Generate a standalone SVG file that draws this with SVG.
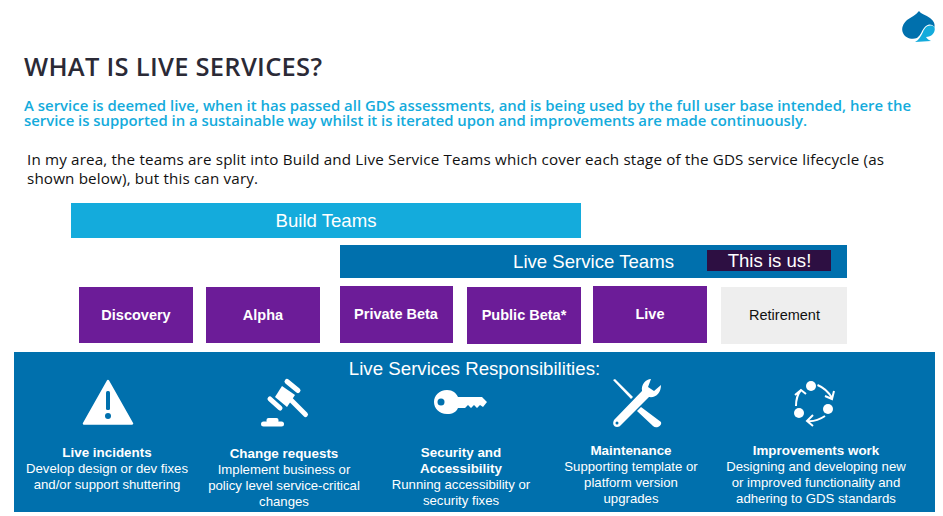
<svg xmlns="http://www.w3.org/2000/svg" width="943" height="516" viewBox="0 0 943 516">
<style>
text{font-family:"Liberation Sans",Arial,sans-serif;text-anchor:middle;fill:#fff}
.h{font-family:"Open Sans","Noto Sans",sans-serif;text-anchor:start}
.b{font-size:14.5px;font-weight:700}
.r{font-size:13.2px}
.rb{font-size:13.4px;font-weight:700}
.t{font-size:18.6px}
.p{fill:#6c1c98}
.w{fill:#fff}
</style>
<rect width="943" height="516" fill="#fff"/>
<g id="logo">
<path d="M919 11C921 14 926 15 930 18C934 21 935 24 934.500 27C931 23 927 24 924 28C921 32 921 35 917 38C912 40 905 38 903 33C901 28 903 24 907 20C911 17 916 15 919 11Z" fill="#0070ad"/>
<path d="M934.500 27C936 33 931 37 926 37C927 39 929 40 931 41L915 42C919 40 921 36 923 32C925 27 929 23.500 934.500 27Z" fill="#14abdc"/>
</g>
<g id="heading">
<text class="h" x="24" y="76" font-size="25.500" font-weight="600" textLength="298" style="fill:#2b2a36">WHAT IS LIVE SERVICES?</text>
<text class="h" x="24" y="111" font-size="14.900" font-weight="600" textLength="887" style="fill:#14abdc">A service is deemed live, when it has passed all GDS assessments, and is being used by the full user base intended, here the</text>
<text class="h" x="24" y="126" font-size="14.900" font-weight="600" textLength="783" style="fill:#14abdc">service is supported in a sustainable way whilst it is iterated upon and improvements are made continuously.</text>
<text class="h" x="27" y="165" font-size="15.200" textLength="857" style="fill:#111">In my area, the teams are split into Build and Live Service Teams which cover each stage of the GDS service lifecycle (as</text>
<text class="h" x="27" y="184" font-size="15.200" textLength="231" style="fill:#111">shown below), but this can vary.</text>
</g>
<g id="build-teams"><rect x="71" y="203" width="510" height="35" fill="#14abdc"/><text class="t" x="326" y="227">Build Teams</text></g>
<g id="live-service-teams"><rect x="340" y="245" width="507" height="33" fill="#0070ad"/><text class="t" x="593.500" y="268">Live Service Teams</text></g>
<g id="this-is-us"><rect x="707" y="250" width="124" height="21" fill="#2d0f42"/><text class="t" x="769.500" y="267">This is us!</text></g>
<g id="discovery"><rect class="p" x="79" y="287" width="114" height="56"/><text class="b" x="136" y="320">Discovery</text></g>
<g id="alpha"><rect class="p" x="206" y="287" width="114" height="56"/><text class="b" x="263" y="320">Alpha</text></g>
<g id="private-beta"><rect class="p" x="340" y="286" width="113" height="57"/><text class="b" x="396" y="319">Private Beta</text></g>
<g id="public-beta"><rect class="p" x="467" y="287" width="114" height="57"/><text class="b" x="524" y="320">Public Beta*</text></g>
<g id="live"><rect class="p" x="593" y="286" width="114" height="57"/><text class="b" x="650" y="319">Live</text></g>
<g id="retirement"><rect x="721" y="287" width="126" height="57" fill="#eee"/><text x="784.500" y="320" font-size="14.500" style="fill:#111">Retirement</text></g>
<g id="responsibilities">
<rect x="14" y="352" width="921" height="160" fill="#0070ad"/>
<text x="474.500" y="375" font-size="18.700">Live Services Responsibilities:</text>
</g>
<g id="live-incidents">
<path d="M108 381L132 423.500H84Z" class="w" stroke="#fff" stroke-width="2.500" stroke-linejoin="round"/>
<rect x="106" y="391" width="4" height="19" rx="1.500" fill="#0070ad"/><circle cx="108" cy="416" r="3" fill="#0070ad"/>
<text class="rb" x="107" y="457">Live incidents</text>
<text class="r" x="107" y="473">Develop design or dev fixes</text>
<text class="r" x="107" y="489">and/or support shuttering</text>
</g>
<g id="change-requests">
<path d="M282 386L295 395L287 407L275 397Z" class="w"/>
<g stroke="#fff" stroke-linecap="round" fill="none">
<path d="M287 381.500L298 390.500" stroke-width="5"/>
<path d="M270 399L280 408" stroke-width="5"/>
<path d="M290 399L305.500 414.500" stroke-width="5"/>
</g>
<rect x="261" y="421.500" width="23" height="5" rx="2.500" class="w"/><rect x="266.500" y="418" width="12" height="5" rx="2" class="w"/>
<text class="rb" x="284" y="458">Change requests</text>
<text class="r" x="284" y="474">Implement business or</text>
<text class="r" x="284" y="490">policy level service-critical</text>
<text class="r" x="284" y="506">changes</text>
</g>
<g id="security-accessibility">
<path d="M447 390C453 390 456 393 458 397H482L487 402L483 407L480 405L477 408L474 405L471 408L468 405L465 408L458 408C456 412 453 414 447 414C439 414 434 408 434 402C434 396 439 390 447 390Z" class="w"/>
<circle cx="441" cy="402" r="3.500" fill="#0070ad"/>
<text class="rb" x="461" y="457">Security and</text>
<text class="rb" x="461" y="473">Accessibility</text>
<text class="r" x="461" y="489">Running accessibility or</text>
<text class="r" x="461" y="505">security fixes</text>
</g>
<g id="maintenance">
<path d="M613 380L615 379L633 397L631 399Z" class="w"/>
<path d="M641 407L661 422Q662 425 658 427Q655 428 653 426L637 411Z" class="w"/>
<path d="M651 379C646 379 641 384 642 391L614 420C612 424 614 427 617 427C619 427 620 426 621 425L649 397C656 398 661 393 661 385L654 391L648 387Z" class="w"/>
<circle cx="617" cy="423" r="1.500" fill="#0070ad"/>
<text class="rb" x="631" y="455">Maintenance</text>
<text class="r" x="631" y="471">Supporting template or</text>
<text class="r" x="631" y="487">platform version</text>
<text class="r" x="631" y="503">upgrades</text>
</g>
<g id="improvements">
<circle cx="811" cy="386" r="5" class="w"/><circle cx="828" cy="409" r="5" class="w"/><circle cx="799" cy="413" r="5" class="w"/>
<g fill="none" stroke="#fff" stroke-width="2">
<path d="M817.500 385Q827 389 832 398M825 396L832 399L834 391"/>
<path d="M825 416Q816 422 807 421M813 415L807 421L813 426"/>
<path d="M796 406Q796 396 801 390M795 395L801 390L806 394"/>
</g>
<text class="rb" x="816" y="455">Improvements work</text>
<text class="r" x="816" y="471">Designing and developing new</text>
<text class="r" x="816" y="487">or improved functionality and</text>
<text class="r" x="816" y="503">adhering to GDS standards</text>
</g>
</svg>
